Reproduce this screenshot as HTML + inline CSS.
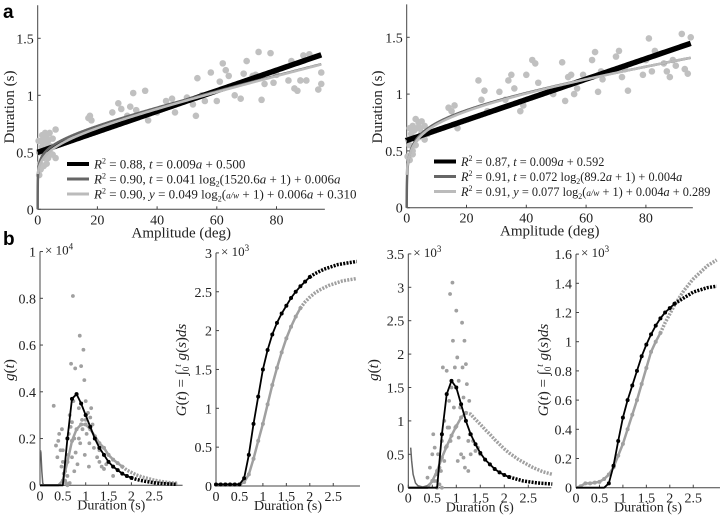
<!DOCTYPE html>
<html><head><meta charset="utf-8"><style>
html,body{margin:0;padding:0;background:#fff;}
svg{display:block;font-family:"Liberation Serif",serif;}
</style></head><body>
<svg id="fig" width="720" height="518" viewBox="0 0 720 518" xmlns="http://www.w3.org/2000/svg">
<text x="3" y="18" font-family="Liberation Sans,sans-serif" font-weight="bold" font-size="19">a</text>
<text x="3" y="245" font-family="Liberation Sans,sans-serif" font-weight="bold" font-size="19">b</text>
</svg>
<script>
// ---------- DATA ----------
const aLeftAmp = [0.3,0.5,0.8,1,1,1,1.5,1.5,2,2,2,2.5,2.5,3,3,3,3.5,3.5,4,4,4.5,5,5,6,6,0.5,17,17.5,18,25,27,28,30,31,32,33,36,37,40,41,43,45,46,50,52,53,53.5,55,56,58,60,61,62,63,64,66,68,69,70,72,73,74,75,76,78,79,80,84,85,86,87,88,89,90,91,94,95,95];
const aLeftDur = [0.6,0.3,0.4,0.5,0.6,0.35,0.55,0.65,0.45,0.6,0.38,0.5,0.67,0.55,0.63,0.4,0.45,0.6,0.5,0.67,0.55,0.48,0.62,0.45,0.7,0.5,0.8,0.82,0.78,0.85,0.93,0.88,0.82,0.9,1.02,0.87,1.04,0.78,0.85,0.88,0.95,0.97,0.85,0.98,0.92,0.82,1.15,1.0,0.95,1.2,0.95,1.12,1.28,1.22,1.17,1.0,0.97,1.19,1.3,1.17,1.18,1.38,0.96,1.1,1.37,1.11,1.18,1.13,1.3,1.06,1.04,1.13,1.35,1.13,1.36,1.05,1.1,1.2];
const aRightAmp = [0.3,0.5,1,1,1.5,2,2,2.5,3,3,3.5,4,4,4.5,5,5,6,6,7,1,2,3,14,15,16,17,24,25,26,27,31,33,34,35,36,38,39,40,42,43,44,49,52,53,54,55,56,57,59,62,63,64,65,65.5,70,71,72,73,74,79,80,81,82,83,86,87,88,89,90,92,93,94,95];
const aRightDur = [0.45,0.6,0.55,0.7,0.65,0.5,0.72,0.68,0.6,0.78,0.7,0.75,0.62,0.7,0.66,0.76,0.6,0.72,0.65,0.42,0.47,0.55,0.88,0.85,0.9,0.7,1.12,0.95,1.03,0.85,1.02,0.95,1.12,1.17,1.05,0.85,0.9,1.17,1.3,1.27,1.1,1.0,1.28,0.94,1.15,1.17,1.0,1.05,1.17,1.3,1.37,1.02,1.2,1.13,1.33,1.38,1.15,1.22,1.03,1.17,1.3,1.49,1.2,1.38,1.27,1.2,1.15,1.3,1.25,1.53,1.22,1.18,1.5];
// fit coefficients from legends
const linLeft = [0.009, 0.500];
const logLeft = [0.041, 1520.6, 0.006];
const wLeft   = [0.049, 0.38, 0.006, 0.310];
const linRight = [0.009, 0.592];
const logRight = [0.072, 89.2, 0.004];
const wRight   = [0.077, 0.27, 0.004, 0.289];

const tGrid = [0,0.1,0.2,0.3,0.4,0.5,0.6,0.7,0.8,0.9,1.0,1.1,1.2,1.3,1.4,1.5,1.6,1.7,1.8,1.9,2.0,2.1,2.2,2.3,2.4,2.5,2.6,2.7,2.8,2.9,3.0];
const gLeftBlack = [0,0,0,0,0,0.0,0.2,0.37,0.39,0.35,0.3,0.25,0.2,0.16,0.13,0.1,0.08,0.065,0.05,0.04,0.032,0.026,0.021,0.017,0.014,0.011,0.009,0.007,0.006,0.005,0.004];
const gLeftGray  = [0,0,0,0,0,0.02,0.1,0.19,0.24,0.26,0.26,0.24,0.21,0.18,0.16,0.13,0.11,0.095,0.08,0.065,0.055,0.045,0.038,0.032,0.027,0.022,0.018,0.015,0.012,0.01,0.009];
const spikeLeftT = [0.01,0.02,0.04,0.06,0.08,0.3];
const spikeLeftV = [0.15,0.14,0.06,0.01,0.0,0.0];
const gLeftDotT = [0.3,0.35,0.38,0.4,0.42,0.45,0.47,0.48,0.5,0.52,0.55,0.57,0.6,0.62,0.63,0.65,0.67,0.68,0.7,0.72,0.73,0.75,0.77,0.78,0.8,0.82,0.85,0.87,0.88,0.9,0.92,0.95,0.97,0.98,1.0,1.02,1.05,1.07,1.1,1.12,1.15,1.18,1.2,1.25,1.3,1.35,1.4,1.45,1.6,0.6,0.65,0.55,0.75,0.7,0.85,1.0,0.93,1.08,1.3,0.5];
const gLeftDotV = [0.34,0.17,0.12,0.19,0.22,0.15,0.08,0.24,0.1,0.05,0.02,0.01,0.04,0.13,0.22,0.3,0.25,0.52,0.27,0.81,0.36,0.2,0.5,0.14,0.39,0.09,0.33,0.64,0.18,0.51,0.28,0.58,0.45,0.13,0.28,0.22,0.31,0.08,0.29,0.33,0.26,0.16,0.2,0.12,0.15,0.08,0.07,0.09,0.04,0.0,0.01,0.06,0.06,0.12,0.2,0.36,0.24,0.18,0.1,0.15];
const GLeftBlack = [0.02,0.02,0.02,0.02,0.02,0.02,0.1,0.4,0.8,1.15,1.5,1.75,1.95,2.1,2.22,2.32,2.42,2.5,2.57,2.63,2.69,2.73,2.76,2.79,2.81,2.83,2.85,2.86,2.87,2.88,2.89];
const GLeftGray  = [0.02,0.02,0.02,0.02,0.02,0.02,0.05,0.15,0.35,0.58,0.8,1.05,1.3,1.52,1.72,1.9,2.05,2.18,2.29,2.37,2.43,2.48,2.52,2.55,2.58,2.6,2.62,2.64,2.65,2.66,2.67];
const gRightBlack = [0,0,0,0,0,0,0,0.8,1.4,1.6,1.5,1.25,1.0,0.8,0.65,0.52,0.42,0.35,0.28,0.23,0.19,0.16,0.14,0.12,0.1,0.09,0.08,0.07,0.065,0.06,0.055];
const gRightGray  = [0,0,0,0,0,0.1,0.25,0.45,0.62,0.78,0.92,1.05,1.12,1.1,1.02,0.95,0.87,0.8,0.72,0.65,0.58,0.52,0.47,0.42,0.38,0.34,0.3,0.27,0.24,0.22,0.2];
const spikeRightT = [0.05,0.07,0.1,0.15,0.2,0.3,0.4,0.5];
const spikeRightV = [0.6,0.4,0.2,0.07,0.03,0.01,0.03,0.1];
const gRightDotT = [0.4,0.45,0.5,0.52,0.55,0.58,0.6,0.62,0.65,0.7,0.72,0.75,0.78,0.8,0.82,0.85,0.87,0.88,0.9,0.92,0.93,0.95,0.97,1.0,1.02,1.03,1.05,1.08,1.1,1.12,1.13,1.15,1.17,1.18,1.2,1.22,1.25,1.27,1.28,1.3,1.35,1.4,1.45,1.5,0.68,0.6,0.65,0.7,0.55,0.98,1.05,1.15,1.25,0.75,0.85];
const gRightDotV = [0.15,0.3,0.5,0.8,0.6,0.2,0.1,0.5,0.3,0.7,1.8,1.0,0.6,1.75,0.9,1.3,2.9,0.7,1.5,3.07,2.2,1.2,1.8,2.65,1.95,0.4,1.6,1.2,0.5,2.47,1.8,1.35,2.2,0.3,1.85,1.55,0.7,1.3,0.8,0.5,0.7,0.55,0.6,0.5,0.25,0.0,0.05,0.0,0.1,0.9,0.75,0.45,0.25,0.4,0.9];
const GRightBlack = [0,0,0,0,0,0,0,0.03,0.15,0.32,0.48,0.6,0.7,0.8,0.9,0.98,1.05,1.11,1.16,1.2,1.23,1.26,1.28,1.3,1.32,1.34,1.35,1.36,1.37,1.375,1.38];
const GRightGray  = [0,0.01,0.03,0.03,0.035,0.04,0.06,0.09,0.14,0.22,0.3,0.4,0.5,0.6,0.71,0.82,0.93,1.0,1.06,1.13,1.19,1.25,1.3,1.35,1.39,1.43,1.46,1.49,1.52,1.54,1.56];

const aXTicks = [0,20,40,60,80];
const aYTicks = [0,0.5,1,1.5];
const bXTicks = [0,0.5,1,1.5,2,2.5];
const b1YTicks = [0,0.2,0.4,0.6,0.8,1];
const b2YTicks = [0,0.5,1,1.5,2,2.5,3];
const b3YTicks = [0,0.5,1,1.5,2,2.5,3,3.5];
const b4YTicks = [0,0.2,0.4,0.6,0.8,1,1.2,1.4,1.6];

// ---------- DRAWING ----------
const svg = document.getElementById('fig');
const NS = 'http://www.w3.org/2000/svg';
function mk(tag, attrs, parent){
  const e = document.createElementNS(NS, tag);
  for (const k in attrs) e.setAttribute(k, attrs[k]);
  (parent||svg).appendChild(e);
  return e;
}
function axis(x0, kx, xmax, y0, ky, ymax){
  return {sx: v => x0 + v*kx, sy: v => y0 - v*ky, x0, y0, xmax, ymax, kx, ky};
}
function fmt(v){ return String(v); }
function drawAxes(ax, name, xt, yt, xlabel, exp){
  const g = mk('g', {});
  
  
  const top = ax.sy(ax.ymax), right = ax.sx(ax.xmax);
  const big = xlabel === 'Amplitude (deg)';
  const yl = mk('line', {x1:ax.x0, y1:top, x2:ax.x0, y2:ax.y0, stroke:'#444', 'stroke-width':1}, g);
  
  
  const xl = mk('line', {x1:ax.x0, y1:ax.y0, x2:right, y2:ax.y0, stroke:'#444', 'stroke-width':1}, g);
  
  
  xt.forEach(v => {
    const x = ax.sx(v);
    mk('line', {x1:x, y1:ax.y0, x2:x, y2:ax.y0-3, stroke:'#444'}, g);
    const t = mk('text', {x:x, y:ax.y0+15, 'text-anchor':'middle', 'font-size':14, fill:'#222'}, g);
    t.textContent = fmt(v);
    
    
  });
  yt.forEach(v => {
    const y = ax.sy(v);
    mk('line', {x1:ax.x0, y1:y, x2:ax.x0+3, y2:y, stroke:'#444'}, g);
    const t = mk('text', {x:ax.x0-4, y:y+5, 'text-anchor':'end', 'font-size':14, fill:'#222'}, g);
    t.textContent = fmt(v);
    
    
  });
  const lab = mk('text', {x:(ax.x0+right)/2, y:ax.y0+(big?28:24), 'text-anchor':'middle', 'font-size':big?15:14, fill:'#222'}, g);
  lab.textContent = xlabel;
  
  
  if (exp){
    const e = mk('text', {x:ax.x0+5, y:top+3, 'font-size':13, fill:'#222'}, g);
    e.innerHTML = '× 10<tspan dy="-5" font-size="9">' + exp + '</tspan>';
    
    
  }
}
function ylab(x, y, content, name){
  const t = mk('text', {x:0, y:0, transform:'translate('+x+','+y+') rotate(-90)', 'text-anchor':'middle', 'font-size':15, fill:'#222'});
  t.innerHTML = content;
  
  
}
function scatter(ax, xs, ys, r, color, name){
  const g = mk('g', {fill:color});
  
  
  xs.forEach((x,i) => {
    const c = mk('circle', {cx:ax.sx(x), cy:ax.sy(ys[i]), r:r}, g);
    
    
  });
}
function fnLine(ax, f, xmin, xmax, color, w, name){
  let d = '';
  for (let i=0;i<=300;i++){
    const a = xmin + (xmax-xmin)*Math.pow(i/300, 2);
    d += (i?'L':'M') + ax.sx(a).toFixed(2) + ',' + ax.sy(f(a)).toFixed(2);
  }
  const p = mk('path', {d, fill:'none', stroke:color, 'stroke-width':w, 'stroke-linecap':'butt'});
  
  
}
function series(ax, xs, ys, cut, color, w, name, marks){
  let d1='', d2='';
  xs.forEach((x,i) => {
    const pt = ax.sx(x).toFixed(2) + ',' + ax.sy(ys[i]).toFixed(2);
    if (x <= cut) d1 += (d1?'L':'M') + pt;
    if (x >= cut) d2 += (d2?'L':'M') + pt;
  });
  const p = mk('path', {d:d1, fill:'none', stroke:color, 'stroke-width':w, 'stroke-linejoin':'round'});
  
  
  if (d2){
    const q = mk('path', {d:d2, fill:'none', stroke:color, 'stroke-width':3.5, 'stroke-dasharray':'2 1.3'});
    
    
  }
  if (marks){
    xs.forEach((x,i) => {
      if (x <= cut && ys[i] > 0.001*ax.ymax){
        const c = mk('circle', {cx:ax.sx(x), cy:ax.sy(ys[i]), r:2, fill:color});
        
        
      }
    });
  }
}
function legend(x, y, name, fs, items){
  const g = mk('g', {});
  
  
  items.forEach((it,i) => {
    const yy = y + i*15;
    mk('line', {x1:x, y1:yy, x2:x+22, y2:yy, stroke:it[0], 'stroke-width':it[1]}, g);
    const t = mk('text', {x:x+27, y:yy+4.5, 'font-size':fs, fill:'#222', 'font-style':'italic'}, g);
    t.innerHTML = it[2];
    
    
  });
}
const log2 = v => Math.log(v)/Math.LN2;

// Panel a left
const A1 = axis(37.7, 2.985, 96.2, 209.3, 114, 1.79);
drawAxes(A1, 'a-left', aXTicks, aYTicks, 'Amplitude (deg)');
ylab(14, 107, 'Duration (s)', 'a-left-y-axis-title');
scatter(A1, aLeftAmp, aLeftDur, 3.3, '#c0c0c0', 'a-left-scatter');
fnLine(A1, a => linLeft[0]*a + linLeft[1], 0, 95, '#000', 5.5, 'a-left-linear-fit');
fnLine(A1, a => logLeft[0]*log2(logLeft[1]*a+1) + logLeft[2]*a, 0, 95, '#666', 2.5, 'a-left-log-fit');
fnLine(A1, a => wLeft[0]*log2(a/wLeft[1]+1) + wLeft[2]*a + wLeft[3], 0, 95, '#bbb', 2.5, 'a-left-weber-fit');
legend(67, 164, 'a-left-legend', 13, [
 ['#000',4,'R<tspan dy="-5" font-size="8" font-style="normal">2</tspan><tspan dy="5" font-style="normal"> = 0.88,  </tspan>t<tspan font-style="normal"> = 0.009</tspan>a<tspan font-style="normal"> + 0.500</tspan>'],
 ['#666',3,'R<tspan dy="-5" font-size="8" font-style="normal">2</tspan><tspan dy="5" font-style="normal"> = 0.90,  </tspan>t<tspan font-style="normal"> = 0.041 log</tspan><tspan dy="3" font-size="8" font-style="normal">2</tspan><tspan dy="-3" font-style="normal">(1520.6</tspan>a<tspan font-style="normal"> + 1) + 0.006</tspan>a'],
 ['#bbb',3,'R<tspan dy="-5" font-size="8" font-style="normal">2</tspan><tspan dy="5" font-style="normal"> = 0.90,  </tspan>y<tspan font-style="normal"> = 0.049 log</tspan><tspan dy="3" font-size="8" font-style="normal">2</tspan><tspan dy="-3" font-style="normal">(</tspan><tspan font-size="9">a/w</tspan><tspan font-style="normal"> + 1) + 0.006</tspan>a<tspan font-style="normal"> + 0.310</tspan>']
]);

// Panel a right
const A2 = axis(406.7, 2.99, 95.7, 207.7, 113.6, 1.79);
drawAxes(A2, 'a-right', aXTicks, aYTicks, 'Amplitude (deg)');
ylab(382, 107, 'Duration (s)', 'a-right-y-axis-title');
scatter(A2, aRightAmp, aRightDur, 3.3, '#c0c0c0', 'a-right-scatter');
fnLine(A2, a => linRight[0]*a + linRight[1], 0, 95, '#000', 5.5, 'a-right-linear-fit');
fnLine(A2, a => logRight[0]*log2(logRight[1]*a+1) + logRight[2]*a, 0, 95, '#666', 2.5, 'a-right-log-fit');
fnLine(A2, a => wRight[0]*log2(a/wRight[1]+1) + wRight[2]*a + wRight[3], 0, 95, '#bbb', 2.5, 'a-right-weber-fit');
legend(434, 161.5, 'a-right-legend', 12.3, [
 ['#000',4,'R<tspan dy="-5" font-size="8" font-style="normal">2</tspan><tspan dy="5" font-style="normal"> = 0.87,  </tspan>t<tspan font-style="normal"> = 0.009</tspan>a<tspan font-style="normal"> + 0.592</tspan>'],
 ['#666',3,'R<tspan dy="-5" font-size="8" font-style="normal">2</tspan><tspan dy="5" font-style="normal"> = 0.91,  </tspan>t<tspan font-style="normal"> = 0.072 log</tspan><tspan dy="3" font-size="8" font-style="normal">2</tspan><tspan dy="-3" font-style="normal">(89.2</tspan>a<tspan font-style="normal"> + 1) + 0.004</tspan>a'],
 ['#bbb',3,'R<tspan dy="-5" font-size="8" font-style="normal">2</tspan><tspan dy="5" font-style="normal"> = 0.91,  </tspan>y<tspan font-style="normal"> = 0.077 log</tspan><tspan dy="3" font-size="8" font-style="normal">2</tspan><tspan dy="-3" font-style="normal">(</tspan><tspan font-size="9">a/w</tspan><tspan font-style="normal"> + 1) + 0.004</tspan>a<tspan font-style="normal"> + 0.289</tspan>']
]);

// Panel b1: g(t) left
const B1 = axis(40, 45.7, 3.12, 485.3, 233.75, 1);
drawAxes(B1, 'b-g-left', bXTicks, b1YTicks, 'Duration (s)', '4');
ylab(14, 370, '<tspan font-style="italic">g</tspan>(<tspan font-style="italic">t</tspan>)', 'b-g-left-y-axis-title');
scatter(B1, gLeftDotT, gLeftDotV, 1.9, '#a0a0a0', 'b-g-left-scatter');
series(B1, spikeLeftT, spikeLeftV, 5, '#666', 1.5, 'b-g-left-spike');
series(B1, tGrid, gLeftGray, 1.8, '#a0a0a0', 2.5, 'b-g-left-gray-curve', true);
series(B1, tGrid, gLeftBlack, 2.0, '#000', 1.8, 'b-g-left-black-curve', true);

// Panel b2: G(t) left
const B2 = axis(216, 46.9, 3.07, 486, 77.7, 3);
drawAxes(B2, 'b-G-left', bXTicks, b2YTicks, 'Duration (s)', '3');
ylab(186, 370, '<tspan font-style="italic">G</tspan>(<tspan font-style="italic">t</tspan>) = ∫<tspan font-size="9" dy="3">0</tspan><tspan font-size="9" dy="-8" font-style="italic">t</tspan><tspan dy="5"> </tspan><tspan font-style="italic">g</tspan>(<tspan font-style="italic">s</tspan>)<tspan font-style="italic">ds</tspan>', 'b-G-left-y-axis-title');
series(B2, tGrid, GLeftGray, 1.8, '#a0a0a0', 2.5, 'b-G-left-gray-curve', true);
series(B2, tGrid, GLeftBlack, 2.0, '#000', 1.8, 'b-G-left-black-curve', true);

// Panel b3: g(t) right
const B3 = axis(408.3, 48, 2.98, 487.7, 66.8, 3.5);
drawAxes(B3, 'b-g-right', bXTicks, b3YTicks, 'Duration (s)', '3');
ylab(378, 370, '<tspan font-style="italic">g</tspan>(<tspan font-style="italic">t</tspan>)', 'b-g-right-y-axis-title');
scatter(B3, gRightDotT, gRightDotV, 1.9, '#a0a0a0', 'b-g-right-scatter');
series(B3, spikeRightT, spikeRightV, 5, '#666', 1.5, 'b-g-right-spike');
series(B3, tGrid, gRightGray, 1.2, '#a0a0a0', 2.5, 'b-g-right-gray-curve', true);
series(B3, tGrid, gRightBlack, 2.1, '#000', 1.8, 'b-g-right-black-curve', true);

// Panel b4: G(t) right
const B4 = axis(576, 46.9, 3.07, 487.7, 146, 1.6);
drawAxes(B4, 'b-G-right', bXTicks, b4YTicks, 'Duration (s)', '3');
ylab(548, 370, '<tspan font-style="italic">G</tspan>(<tspan font-style="italic">t</tspan>) = ∫<tspan font-size="9" dy="3">0</tspan><tspan font-size="9" dy="-8" font-style="italic">t</tspan><tspan dy="5"> </tspan><tspan font-style="italic">g</tspan>(<tspan font-style="italic">s</tspan>)<tspan font-style="italic">ds</tspan>', 'b-G-right-y-axis-title');
series(B4, tGrid, GRightGray, 1.8, '#a0a0a0', 2.5, 'b-G-right-gray-curve', true);
series(B4, tGrid, GRightBlack, 2.1, '#000', 1.8, 'b-G-right-black-curve', true);
</script>
</body></html>
